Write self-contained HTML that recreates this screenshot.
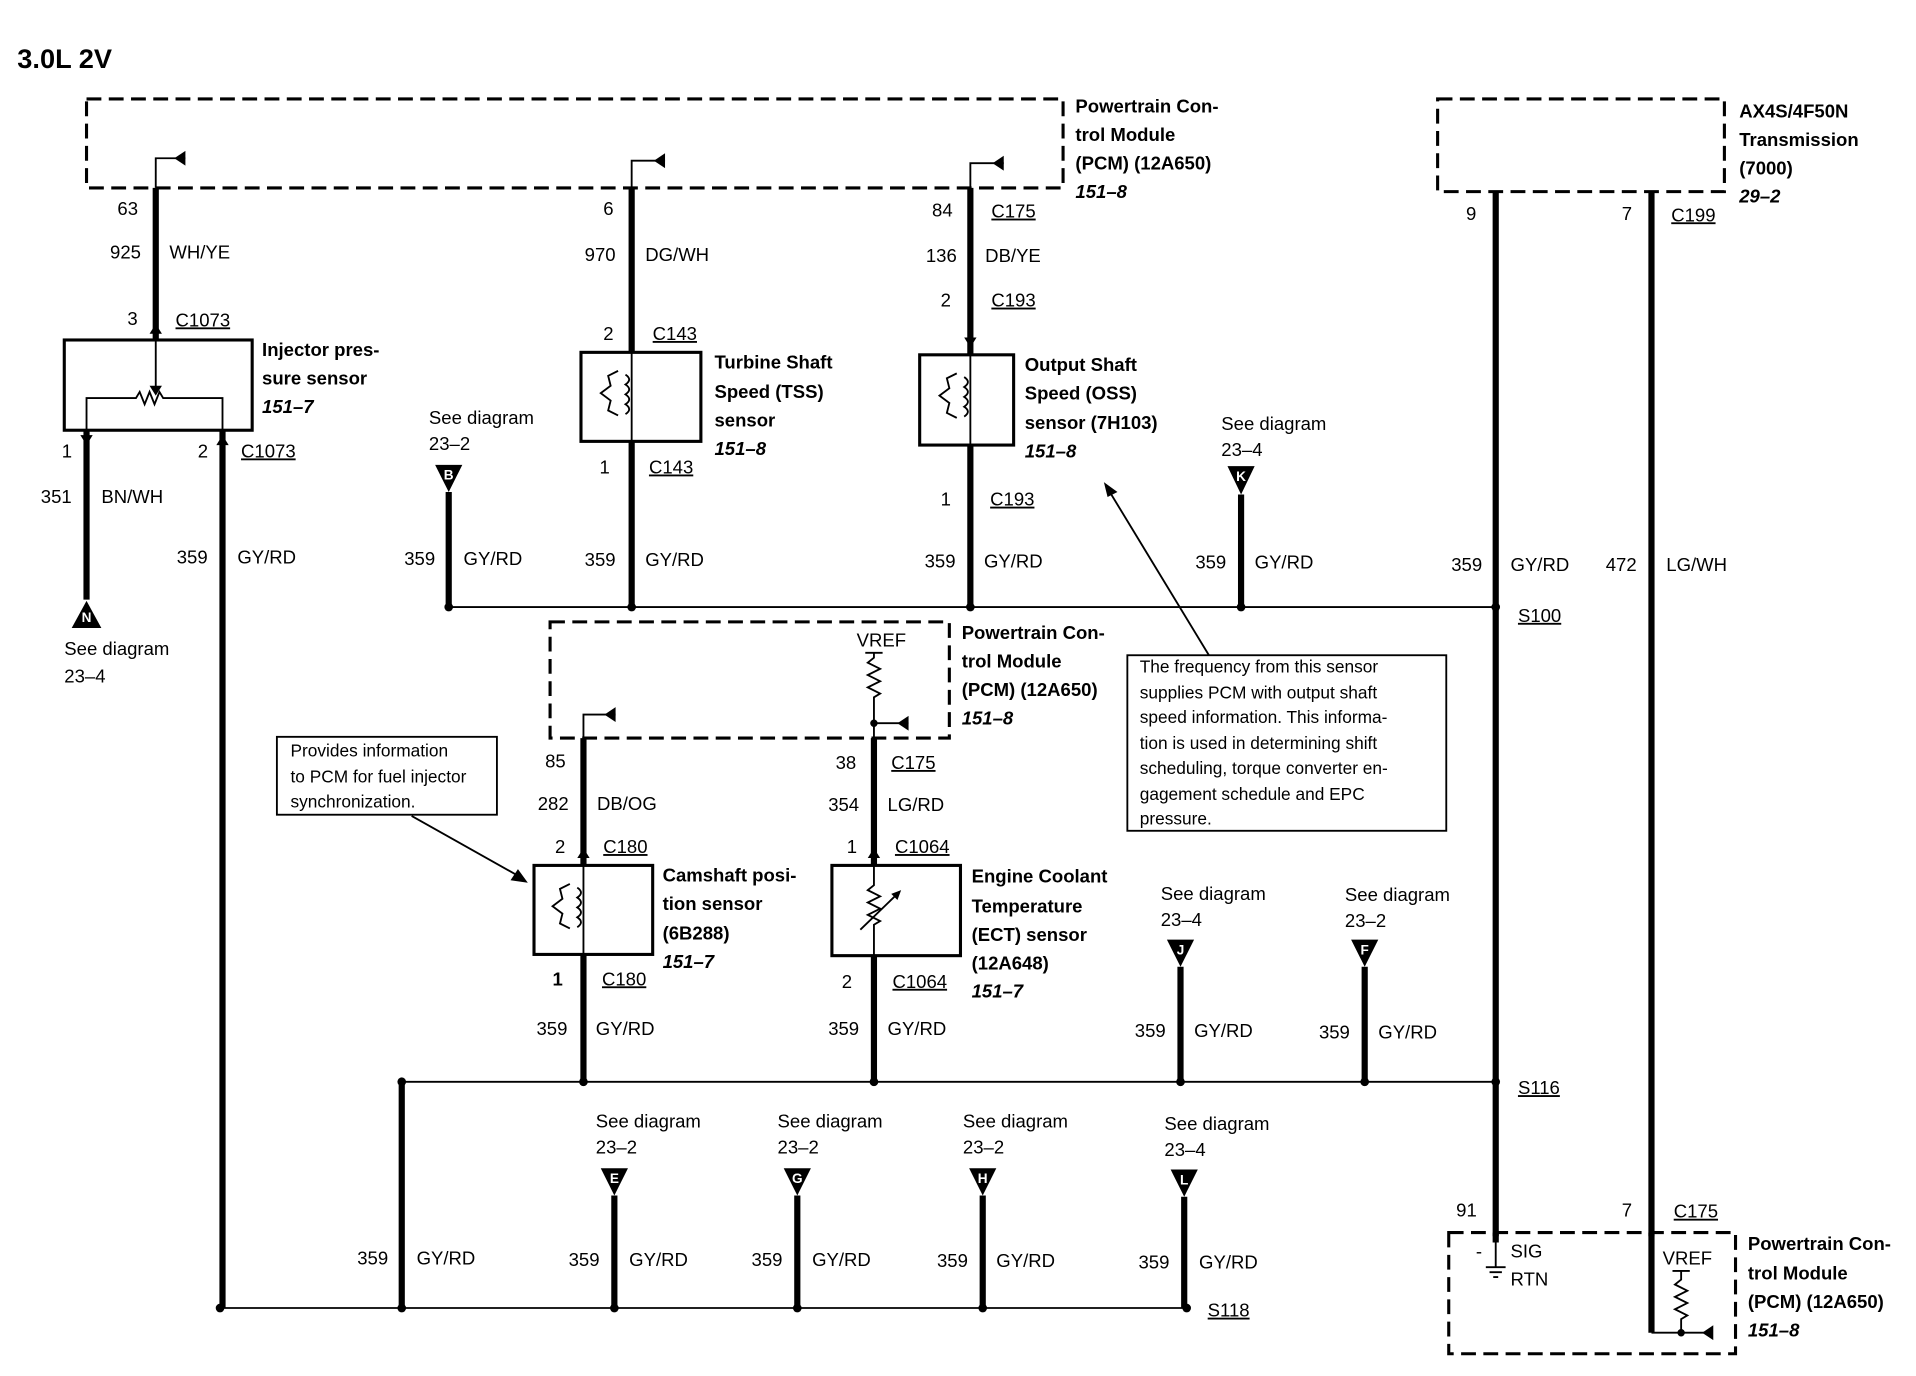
<!DOCTYPE html>
<html><head><meta charset="utf-8"><style>
html,body{margin:0;padding:0;background:#fff;}
svg{display:block;}
text{font-family:"Liberation Sans",sans-serif;font-size:15px;fill:#000;}
.b{font-weight:bold;}
.i{font-style:italic;font-weight:bold;}
.u{text-decoration:underline;}
.w{stroke:#000;stroke-width:5;fill:none;}
.t{stroke:#000;stroke-width:1.5;fill:none;}
.d{stroke:#000;stroke-width:2.5;fill:none;stroke-dasharray:12 6;}
.bx{stroke:#000;stroke-width:2.5;fill:#fff;}
.tl{fill:#fff;font-size:11px;font-weight:bold;text-anchor:middle;}
</style></head><body>
<svg width="1916" height="1376" viewBox="0 0 1550 1113" preserveAspectRatio="none" xmlns="http://www.w3.org/2000/svg">
<text x="14" y="55" class="b" style="font-size:22px">3.0L 2V</text>

<!-- Top PCM -->
<rect x="70" y="80" width="790" height="72" class="d"/>
<text x="870" y="91" class="b">Powertrain Con-</text>
<text x="870" y="114" class="b">trol Module</text>
<text x="870" y="137" class="b">(PCM) (12A650)</text>
<text x="870" y="160" class="i">151–8</text>

<!-- Transmission -->
<rect x="1163" y="80" width="232" height="75" class="d"/>
<text x="1407" y="95" class="b">AX4S/4F50N</text>
<text x="1407" y="118" class="b">Transmission</text>
<text x="1407" y="141" class="b">(7000)</text>
<text x="1407" y="164" class="i">29–2</text>

<!-- flags -->
<g class="t">
<path d="M126 152 V128 H150"/><path d="M511 152 V130 H538"/><path d="M785 152 V132 H812"/>
<path d="M472 597 V578 H498"/><path d="M707 585 H735"/>
</g>
<g fill="#000">
<polygon points="150,122 150,134 141,128"/><polygon points="538,124 538,136 529,130"/><polygon points="812,126 812,138 803,132"/>
<polygon points="498,572 498,584 489,578"/><polygon points="735,579 735,591 726,585"/>
</g>

<!-- Injector sensor -->
<path d="M126 152 V275" class="w"/>
<rect x="52" y="275" width="152" height="73" class="bx"/>
<path class="t" d="M126 275 V316 M70 348 V322 H110 l3 -5 l4 10 l4 -10 l4 10 l4 -10 l3 5 H180 V348"/>
<polygon points="121,312 131,312 126,320" fill="#000"/>
<path d="M70 348 V485 M180 348 V1058" class="w"/>
<polygon points="65,352 75,352 70,360" fill="#000"/><polygon points="175,360 185,360 180,352" fill="#000"/>
<polygon points="121,270 131,270 126,262" fill="#000"/>
<polygon points="58,508 82,508 70,486" fill="#000"/><text x="70" y="503" class="tl">N</text>
<text x="95" y="174">63</text><text x="89" y="209">925</text><text x="137" y="209">WH/YE</text>
<text x="103" y="263">3</text><text x="142" y="264" class="u">C1073</text>
<text x="212" y="288" class="b">Injector pres-</text><text x="212" y="311" class="b">sure sensor</text><text x="212" y="334" class="i">151–7</text>
<text x="50" y="370">1</text><text x="160" y="370">2</text><text x="195" y="370" class="u">C1073</text>
<text x="33" y="407">351</text><text x="82" y="407">BN/WH</text>
<text x="143" y="456">359</text><text x="192" y="456">GY/RD</text>
<text x="52" y="530">See diagram</text><text x="52" y="552">23–4</text>

<!-- TSS -->
<path d="M511 152 V285 M511 357 V491" class="w"/>
<rect x="470" y="285" width="97" height="72" class="bx"/>
<path class="t" d="M511 285 V357"/>
<path class="t" d="M506 303 q6 4 0 8 q6 4 0 8 q6 4 0 8 q6 4 0 8 M500 300 l-8 4 l2 8 l-8 6 l8 6 l-2 8 l8 4"/>
<text x="488" y="174">6</text><text x="473" y="211">970</text><text x="522" y="211">DG/WH</text>
<text x="488" y="275">2</text><text x="528" y="275" class="u">C143</text>
<text x="578" y="298" class="b">Turbine Shaft</text><text x="578" y="322" class="b">Speed (TSS)</text><text x="578" y="345" class="b">sensor</text><text x="578" y="368" class="i">151–8</text>
<text x="485" y="383">1</text><text x="525" y="383" class="u">C143</text>
<text x="473" y="458">359</text><text x="522" y="458">GY/RD</text>

<!-- OSS -->
<path d="M785 152 V287 M785 360 V491" class="w"/>
<rect x="744" y="287" width="76" height="73" class="bx"/>
<path class="t" d="M785 287 V360"/>
<path class="t" d="M780 305 q6 4 0 8 q6 4 0 8 q6 4 0 8 q6 4 0 8 M774 302 l-8 4 l2 8 l-8 6 l8 6 l-2 8 l8 4"/>
<polygon points="780,273 790,273 785,281" fill="#000"/>
<text x="754" y="175">84</text><text x="802" y="176" class="u">C175</text>
<text x="749" y="212">136</text><text x="797" y="212">DB/YE</text>
<text x="761" y="248">2</text><text x="802" y="248" class="u">C193</text>
<text x="829" y="300" class="b">Output Shaft</text><text x="829" y="323" class="b">Speed (OSS)</text><text x="829" y="347" class="b">sensor (7H103)</text><text x="829" y="370" class="i">151–8</text>
<text x="761" y="409">1</text><text x="801" y="409" class="u">C193</text>
<text x="748" y="459">359</text><text x="796" y="459">GY/RD</text>

<!-- B, K -->
<polygon points="352,376 374,376 363,398" fill="#000"/><text x="363" y="388" class="tl">B</text>
<path d="M363 398 V491" class="w"/>
<text x="347" y="343">See diagram</text><text x="347" y="364">23–2</text>
<text x="327" y="457">359</text><text x="375" y="457">GY/RD</text>
<polygon points="993,377 1015,377 1004,400" fill="#000"/><text x="1004" y="389" class="tl">K</text>
<path d="M1004 400 V491" class="w"/>
<text x="988" y="348">See diagram</text><text x="988" y="369">23–4</text>
<text x="967" y="460">359</text><text x="1015" y="460">GY/RD</text>

<!-- Right wires -->
<path d="M1210 155 V1000 M1336 155 V1000" class="w"/>
<text x="1186" y="178">9</text><text x="1312" y="178">7</text><text x="1352" y="179" class="u">C199</text>
<text x="1174" y="462">359</text><text x="1222" y="462">GY/RD</text>
<text x="1299" y="462">472</text><text x="1348" y="462">LG/WH</text>

<!-- S100 bus -->
<path d="M363 491 H1210" class="t"/>
<g fill="#000"><circle cx="363" cy="491" r="3.5"/><circle cx="511" cy="491" r="3.5"/><circle cx="785" cy="491" r="3.5"/><circle cx="1004" cy="491" r="3.5"/><circle cx="1210" cy="491" r="3.5"/></g>
<text x="1228" y="503" class="u">S100</text>

<!-- Mid PCM -->
<rect x="445" y="503" width="323" height="94" class="d"/>
<text x="693" y="523">VREF</text>
<path class="t" d="M707 528 l0 4 l-5 4 l10 5 l-10 5 l10 5 l-10 5 l10 5 l-5 3 V597 M700 528 H714"/>
<circle cx="707" cy="585" r="3" fill="#000"/>
<text x="778" y="517" class="b">Powertrain Con-</text><text x="778" y="540" class="b">trol Module</text><text x="778" y="563" class="b">(PCM) (12A650)</text><text x="778" y="586" class="i">151–8</text>

<!-- Note boxes -->
<rect x="912" y="530" width="258" height="142" class="t" fill="#fff"/>
<g style="font-size:14px">
<text x="922" y="544" style="font-size:14px">The frequency from this sensor</text>
<text x="922" y="565" style="font-size:14px">supplies PCM with output shaft</text>
<text x="922" y="585" style="font-size:14px">speed information. This informa-</text>
<text x="922" y="606" style="font-size:14px">tion is used in determining shift</text>
<text x="922" y="626" style="font-size:14px">scheduling, torque converter en-</text>
<text x="922" y="647" style="font-size:14px">gagement schedule and EPC</text>
<text x="922" y="667" style="font-size:14px">pressure.</text>
</g>
<path class="t" d="M978 530 L896 395"/><polygon points="893,390 904,398 896,402" fill="#000"/>
<rect x="224" y="596" width="178" height="63" class="t" fill="#fff"/>
<text x="235" y="612" style="font-size:14px">Provides information</text>
<text x="235" y="633" style="font-size:14px">to PCM for fuel injector</text>
<text x="235" y="653" style="font-size:14px">synchronization.</text>
<path class="t" d="M333 660 L422 710"/><polygon points="427,714 413,712 419,703" fill="#000"/>

<!-- Camshaft -->
<path d="M472 597 V700 M472 772 V875" class="w"/>
<rect x="432" y="700" width="96" height="72" class="bx"/>
<path class="t" d="M472 700 V772"/>
<path class="t" d="M467 718 q6 4 0 8 q6 4 0 8 q6 4 0 8 q6 4 0 8 M461 715 l-8 4 l2 8 l-8 6 l8 6 l-2 8 l8 4"/>
<polygon points="467,694 477,694 472,686" fill="#000"/>
<text x="441" y="621">85</text><text x="435" y="655">282</text><text x="483" y="655">DB/OG</text>
<text x="449" y="690">2</text><text x="488" y="690" class="u">C180</text>
<text x="536" y="713" class="b">Camshaft posi-</text><text x="536" y="736" class="b">tion sensor</text><text x="536" y="760" class="b">(6B288)</text><text x="536" y="783" class="i">151–7</text>
<text x="447" y="797" class="b">1</text><text x="487" y="797" class="u">C180</text>
<text x="434" y="837">359</text><text x="482" y="837">GY/RD</text>

<!-- ECT -->
<path d="M707 597 V700 M707 773 V875" class="w"/>
<rect x="673" y="700" width="104" height="73" class="bx"/>
<path class="t" d="M707 700 V716 l-5 4 l10 5 l-10 5 l10 5 l-10 5 l10 5 l-5 3 V773 M696 752 L727 722"/>
<polygon points="729,720 721,723 726,728" fill="#000"/>
<polygon points="702,694 712,694 707,686" fill="#000"/>
<text x="676" y="622">38</text><text x="721" y="622" class="u">C175</text>
<text x="670" y="656">354</text><text x="718" y="656">LG/RD</text>
<text x="685" y="690">1</text><text x="724" y="690" class="u">C1064</text>
<text x="786" y="714" class="b">Engine Coolant</text><text x="786" y="738" class="b">Temperature</text><text x="786" y="761" class="b">(ECT) sensor</text><text x="786" y="784" class="b">(12A648)</text><text x="786" y="807" class="i">151–7</text>
<text x="681" y="799">2</text><text x="722" y="799" class="u">C1064</text>
<text x="670" y="837">359</text><text x="718" y="837">GY/RD</text>

<!-- J, F -->
<polygon points="944,760 966,760 955,782" fill="#000"/><text x="955" y="772" class="tl">J</text>
<path d="M955 782 V875" class="w"/>
<text x="939" y="728">See diagram</text><text x="939" y="749">23–4</text>
<text x="918" y="839">359</text><text x="966" y="839">GY/RD</text>
<polygon points="1093,760 1115,760 1104,782" fill="#000"/><text x="1104" y="772" class="tl">F</text>
<path d="M1104 782 V875" class="w"/>
<text x="1088" y="729">See diagram</text><text x="1088" y="750">23–2</text>
<text x="1067" y="840">359</text><text x="1115" y="840">GY/RD</text>

<!-- S116 bus -->
<path d="M325 875 H1210" class="t"/>
<g fill="#000"><circle cx="325" cy="875" r="3.5"/><circle cx="472" cy="875" r="3.5"/><circle cx="707" cy="875" r="3.5"/><circle cx="955" cy="875" r="3.5"/><circle cx="1104" cy="875" r="3.5"/><circle cx="1210" cy="875" r="3.5"/></g>
<text x="1228" y="885" class="u">S116</text>
<path d="M325 875 V1058" class="w"/>
<text x="289" y="1023">359</text><text x="337" y="1023">GY/RD</text>

<!-- E G H L -->
<g fill="#000">
<polygon points="486,945 508,945 497,967"/><polygon points="634,945 656,945 645,967"/><polygon points="784,945 806,945 795,967"/><polygon points="947,946 969,946 958,968"/>
</g>
<text x="497" y="957" class="tl">E</text><text x="645" y="957" class="tl">G</text><text x="795" y="957" class="tl">H</text><text x="958" y="958" class="tl">L</text>
<path d="M497 967 V1058 M645 967 V1058 M795 967 V1058 M958 968 V1058" class="w"/>
<text x="482" y="912">See diagram</text><text x="482" y="933">23–2</text>
<text x="629" y="912">See diagram</text><text x="629" y="933">23–2</text>
<text x="779" y="912">See diagram</text><text x="779" y="933">23–2</text>
<text x="942" y="914">See diagram</text><text x="942" y="935">23–4</text>
<text x="460" y="1024">359</text><text x="509" y="1024">GY/RD</text>
<text x="608" y="1024">359</text><text x="657" y="1024">GY/RD</text>
<text x="758" y="1025">359</text><text x="806" y="1025">GY/RD</text>
<text x="921" y="1026">359</text><text x="970" y="1026">GY/RD</text>

<!-- S118 bus -->
<path d="M178 1058 H960" class="t"/>
<g fill="#000"><circle cx="178" cy="1058" r="3.5"/><circle cx="325" cy="1058" r="3.5"/><circle cx="497" cy="1058" r="3.5"/><circle cx="645" cy="1058" r="3.5"/><circle cx="795" cy="1058" r="3.5"/><circle cx="960" cy="1058" r="3.5"/></g>
<text x="977" y="1065" class="u">S118</text>

<!-- Bottom right PCM -->
<rect x="1172" y="997" width="232" height="98" class="d"/>
<path d="M1210 997 V1005 M1336 997 V1078" class="w"/>
<path class="t" d="M1210 1005 V1025 M1202 1025 H1218 M1205 1029 H1215 M1208 1033 H1212"/>
<text x="1178" y="984">91</text><text x="1312" y="984">7</text><text x="1354" y="985" class="u">C175</text>
<text x="1194" y="1017">-</text><text x="1222" y="1017">SIG</text><text x="1222" y="1040">RTN</text>
<text x="1345" y="1023">VREF</text>
<path class="t" d="M1360 1028 V1035 l-5 4 l10 5 l-10 5 l10 5 l-10 5 l10 5 l-5 3 V1078 M1336 1078 H1385 M1353 1028 H1367"/>
<circle cx="1360" cy="1078" r="3" fill="#000"/>
<polygon points="1386,1072 1386,1084 1377,1078" fill="#000"/>
<text x="1414" y="1011" class="b">Powertrain Con-</text><text x="1414" y="1035" class="b">trol Module</text><text x="1414" y="1058" class="b">(PCM) (12A650)</text><text x="1414" y="1081" class="i">151–8</text>
</svg>
</body></html>
